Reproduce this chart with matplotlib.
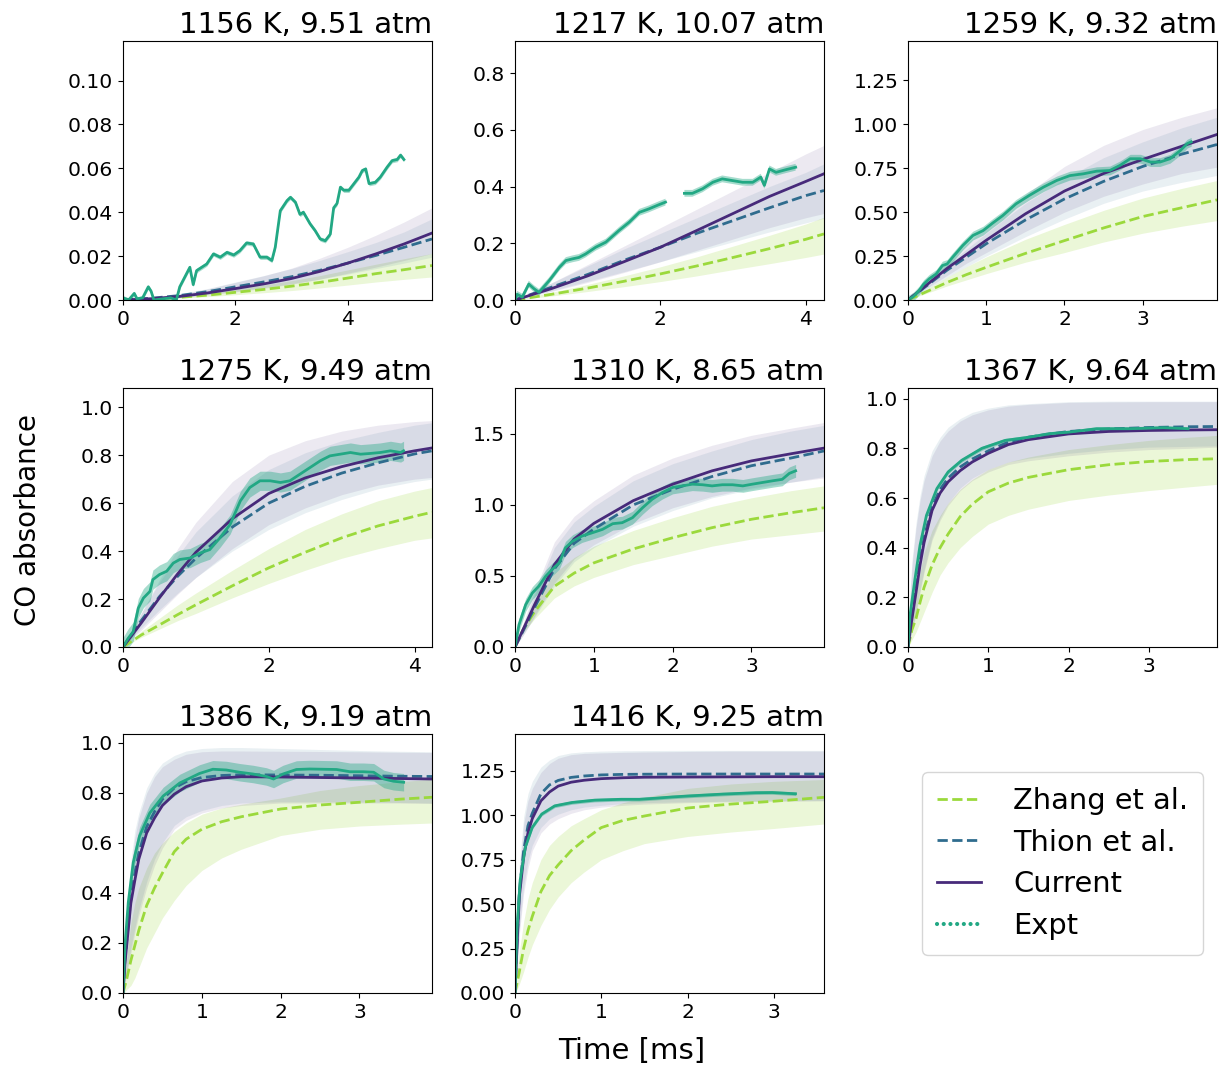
import matplotlib
matplotlib.use("Agg")
import matplotlib.pyplot as plt
import numpy as np
from matplotlib.lines import Line2D
from matplotlib.ticker import MultipleLocator

# ---- panel titles / axis limits / tick steps
TITLES = ["1156 K, 9.51 atm", "1217 K, 10.07 atm", "1259 K, 9.32 atm",
          "1275 K, 9.49 atm", "1310 K, 8.65 atm", "1367 K, 9.64 atm",
          "1386 K, 9.19 atm", "1416 K, 9.25 atm"]
XMAX = [5.5, 4.25, 3.95, 4.24, 3.92, 3.85, 3.92, 3.58]
YMAX = [0.118, 0.913, 1.474, 1.08, 1.823, 1.043, 1.036, 1.456]
XSTEP = [2, 2, 1, 2, 1, 1, 1, 1]
YSTEP = [0.02, 0.2, 0.25, 0.2, 0.5, 0.2, 0.2, 0.25]

# ---- panel 1 : 1156 K
T1 = [0, 0.5, 1, 1.5, 2, 2.5, 3, 3.5, 4, 4.5, 5, 5.5]
ZH1 = [0, 0.0004, 0.0012, 0.0022, 0.0035, 0.0048, 0.0063, 0.0080, 0.0100, 0.0120, 0.0138, 0.0157]
ZH1_LO = [0, 0.0002, 0.0008, 0.0015, 0.0024, 0.0033, 0.0043, 0.0055, 0.0068, 0.0082, 0.0094, 0.0105]
ZH1_HI = [0, 0.0006, 0.0017, 0.0032, 0.0050, 0.0068, 0.0088, 0.0111, 0.0137, 0.0163, 0.0188, 0.0212]
TH1 = [0, 0.0008, 0.0020, 0.0038, 0.0060, 0.0082, 0.0106, 0.0135, 0.0168, 0.0203, 0.0240, 0.0278]
TH1_LO = [0, 0.0005, 0.0013, 0.0025, 0.0040, 0.0056, 0.0074, 0.0095, 0.0118, 0.0143, 0.0168, 0.0195]
TH1_HI = [0, 0.0011, 0.0028, 0.0052, 0.0082, 0.0111, 0.0143, 0.0180, 0.0220, 0.0262, 0.0310, 0.0370]
CU1 = [0, 0.0006, 0.0016, 0.0032, 0.0052, 0.0073, 0.0098, 0.0130, 0.0168, 0.0210, 0.0255, 0.0305]
CU1_LO = [0, 0.0004, 0.0011, 0.0022, 0.0037, 0.0053, 0.0072, 0.0095, 0.0122, 0.0150, 0.0180, 0.0212]
CU1_HI = [0, 0.0010, 0.0026, 0.0050, 0.0080, 0.0110, 0.0145, 0.0190, 0.0240, 0.0295, 0.0355, 0.0420]
EX1_T = [0, 0.1, 0.2, 0.25, 0.35, 0.45, 0.5, 0.55, 0.7, 0.85, 0.95, 1.01, 1.19, 1.25, 1.31,
         1.49, 1.61, 1.73, 1.85, 1.97, 2.08, 2.2, 2.32, 2.44, 2.56, 2.65, 2.71, 2.8, 2.92,
         2.98, 3.07, 3.15, 3.21, 3.33, 3.42, 3.51, 3.6, 3.69, 3.75, 3.81, 3.87, 3.93, 4.02,
         4.11, 4.2, 4.26, 4.32, 4.38, 4.49, 4.58, 4.7, 4.79, 4.88, 4.94, 5.0]
EX1_Y = [0.001, 0.0, 0.003, 0.0005, 0.001, 0.006, 0.004, 0.0, 0.0005, 0.001, 0.0, 0.006,
         0.0149, 0.007, 0.0134, 0.0164, 0.021, 0.0195, 0.0217, 0.0205, 0.0225, 0.026, 0.0255,
         0.0195, 0.0195, 0.018, 0.024, 0.0407, 0.0453, 0.0468, 0.0445, 0.039, 0.040, 0.0347,
         0.0316, 0.0278, 0.027, 0.030, 0.042, 0.044, 0.0514, 0.050, 0.050, 0.053, 0.056,
         0.059, 0.0597, 0.053, 0.0536, 0.056, 0.0605, 0.0635, 0.064, 0.066, 0.064]
EX1_ERR = 0.001

# ---- panel 2 : 1217 K
T2 = [0, 0.5, 1, 1.5, 2, 2.5, 3, 3.5, 4, 4.25]
ZH2 = [0, 0.02, 0.042, 0.066, 0.092, 0.12, 0.15, 0.181, 0.214, 0.233]
ZH2_LO = [0, 0.014, 0.03, 0.047, 0.065, 0.085, 0.107, 0.128, 0.15, 0.162]
ZH2_HI = [0, 0.027, 0.055, 0.085, 0.117, 0.152, 0.19, 0.228, 0.268, 0.292]
TH2 = [0, 0.045, 0.09, 0.14, 0.186, 0.235, 0.28, 0.325, 0.368, 0.386]
TH2_LO = [0, 0.033, 0.066, 0.1, 0.135, 0.17, 0.205, 0.24, 0.272, 0.288]
TH2_HI = [0, 0.06, 0.12, 0.18, 0.235, 0.29, 0.345, 0.4, 0.45, 0.48]
CU2 = [0, 0.04, 0.085, 0.135, 0.186, 0.245, 0.305, 0.365, 0.418, 0.445]
CU2_LO = [0, 0.03, 0.062, 0.097, 0.135, 0.175, 0.215, 0.255, 0.29, 0.305]
CU2_HI = [0, 0.06, 0.125, 0.19, 0.255, 0.32, 0.385, 0.45, 0.515, 0.545]
EX2_T = [0, 0.03, 0.1, 0.19, 0.26, 0.33, 0.47, 0.61, 0.7, 0.79, 0.88, 0.97, 1.11, 1.25,
         1.43, 1.57, 1.71, 1.84, 1.98, 2.07, 2.2, 2.33, 2.44, 2.58, 2.72, 2.85, 2.99, 3.13,
         3.27, 3.38, 3.43, 3.5, 3.59, 3.72, 3.86]
EX2_Y = [0, 0.02, 0.01, 0.056, 0.04, 0.027, 0.068, 0.115, 0.139, 0.145, 0.15, 0.162, 0.186,
         0.204, 0.245, 0.274, 0.309, 0.321, 0.336, 0.345, np.nan, 0.376, 0.376, 0.392, 0.415,
         0.427, 0.421, 0.415, 0.415, 0.433, 0.404, 0.462, 0.45, 0.459, 0.468]
EX2_ERR = 0.012

# ---- panel 3 : 1259 K
T3 = [0, 0.25, 0.5, 0.75, 1, 1.5, 2, 2.5, 3, 3.5, 3.95]
ZH3 = [0, 0.05, 0.1, 0.145, 0.186, 0.265, 0.338, 0.41, 0.475, 0.525, 0.57]
ZH3_LO = [0, 0.04, 0.08, 0.115, 0.15, 0.215, 0.27, 0.33, 0.38, 0.42, 0.452]
ZH3_HI = [0, 0.065, 0.13, 0.19, 0.245, 0.345, 0.43, 0.51, 0.58, 0.635, 0.68]
TH3 = [0, 0.085, 0.17, 0.245, 0.32, 0.455, 0.575, 0.675, 0.76, 0.83, 0.885]
TH3_LO = [0, 0.065, 0.13, 0.19, 0.25, 0.36, 0.46, 0.55, 0.62, 0.67, 0.709]
TH3_HI = [0, 0.1, 0.2, 0.29, 0.38, 0.55, 0.69, 0.81, 0.9, 0.98, 1.04]
CU3 = [0, 0.09, 0.18, 0.26, 0.34, 0.49, 0.62, 0.72, 0.80, 0.875, 0.942]
CU3_LO = [0, 0.07, 0.14, 0.21, 0.27, 0.39, 0.5, 0.59, 0.66, 0.72, 0.756]
CU3_HI = [0, 0.11, 0.22, 0.32, 0.42, 0.6, 0.76, 0.88, 0.97, 1.04, 1.094]
EX3_T = [0, 0.07, 0.14, 0.2, 0.27, 0.36, 0.44, 0.5, 0.57, 0.7, 0.83, 0.96, 1.08, 1.21, 1.38,
         1.55, 1.73, 1.9, 2.07, 2.24, 2.41, 2.58, 2.71, 2.84, 2.97, 3.1, 3.22, 3.35, 3.48,
         3.57, 3.62]
EX3_Y = [0, 0.02, 0.053, 0.09, 0.12, 0.148, 0.196, 0.205, 0.243, 0.31, 0.367, 0.395, 0.437,
         0.48, 0.547, 0.595, 0.642, 0.68, 0.708, 0.718, 0.733, 0.737, 0.766, 0.804, 0.804,
         0.785, 0.785, 0.804, 0.85, 0.89, 0.9]
EX3_ERR = 0.025

# ---- panel 4 : 1275 K
T4 = [0, 0.25, 0.5, 0.75, 1, 1.5, 2, 2.5, 3, 3.5, 4, 4.24]
ZH4 = [0, 0.05, 0.092, 0.135, 0.176, 0.255, 0.33, 0.395, 0.455, 0.505, 0.545, 0.562]
ZH4_LO = [0, 0.04, 0.075, 0.11, 0.14, 0.205, 0.265, 0.32, 0.37, 0.41, 0.445, 0.455]
ZH4_HI = [0, 0.065, 0.12, 0.175, 0.225, 0.32, 0.41, 0.49, 0.555, 0.61, 0.65, 0.665]
TH4 = [0, 0.11, 0.21, 0.295, 0.37, 0.5, 0.6, 0.67, 0.725, 0.768, 0.805, 0.818]
TH4_LO = [0, 0.08, 0.155, 0.225, 0.29, 0.4, 0.49, 0.56, 0.615, 0.66, 0.69, 0.7]
TH4_HI = [0, 0.14, 0.27, 0.38, 0.48, 0.63, 0.74, 0.81, 0.86, 0.895, 0.925, 0.935]
CU4 = [0, 0.1, 0.205, 0.305, 0.395, 0.535, 0.64, 0.705, 0.752, 0.789, 0.818, 0.83]
CU4_LO = [0, 0.07, 0.145, 0.22, 0.29, 0.41, 0.51, 0.58, 0.635, 0.675, 0.7, 0.707]
CU4_HI = [0, 0.14, 0.28, 0.41, 0.52, 0.69, 0.8, 0.86, 0.9, 0.925, 0.94, 0.944]
EX4_T = [0, 0.07, 0.14, 0.21, 0.28, 0.37, 0.41, 0.5, 0.6, 0.69, 0.78, 0.92, 1.06, 1.19, 1.33,
         1.47, 1.61, 1.74, 1.88, 2.02, 2.16, 2.29, 2.43, 2.57, 2.71, 2.84, 2.98, 3.12, 3.26,
         3.39, 3.53, 3.67, 3.81, 3.85]
EX4_Y = [0, 0.036, 0.064, 0.162, 0.204, 0.232, 0.281, 0.302, 0.316, 0.35, 0.365, 0.371,
         0.392, 0.406, 0.455, 0.511, 0.609, 0.665, 0.693, 0.693, 0.686, 0.693, 0.721, 0.749,
         0.777, 0.797, 0.804, 0.811, 0.804, 0.807, 0.811, 0.818, 0.811, 0.818]
EX4_ERR = 0.04

# ---- panel 5 : 1310 K
T5 = [0, 0.1, 0.25, 0.5, 0.75, 1, 1.5, 2, 2.5, 3, 3.5, 3.92]
ZH5 = [0, 0.12, 0.25, 0.427, 0.52, 0.592, 0.69, 0.769, 0.84, 0.899, 0.945, 0.98]
ZH5_LO = [0, 0.1, 0.2, 0.345, 0.43, 0.49, 0.58, 0.645, 0.71, 0.76, 0.79, 0.816]
ZH5_HI = [0, 0.15, 0.31, 0.52, 0.63, 0.71, 0.82, 0.91, 0.99, 1.05, 1.1, 1.134]
TH5 = [0, 0.11, 0.28, 0.55, 0.73, 0.83, 1.0, 1.11, 1.2, 1.276, 1.33, 1.38]
TH5_LO = [0, 0.08, 0.21, 0.43, 0.6, 0.7, 0.85, 0.96, 1.05, 1.11, 1.16, 1.2]
TH5_HI = [0, 0.15, 0.37, 0.7, 0.88, 0.99, 1.17, 1.29, 1.38, 1.46, 1.52, 1.56]
CU5 = [0, 0.12, 0.3, 0.58, 0.76, 0.87, 1.03, 1.146, 1.24, 1.31, 1.36, 1.40]
CU5_LO = [0, 0.08, 0.22, 0.45, 0.62, 0.72, 0.87, 0.98, 1.06, 1.12, 1.16, 1.19]
CU5_HI = [0, 0.16, 0.4, 0.74, 0.92, 1.03, 1.21, 1.33, 1.42, 1.49, 1.54, 1.58]
EX5_T = [0, 0.05, 0.135, 0.22, 0.3, 0.39, 0.47, 0.56, 0.64, 0.73, 0.85, 0.98, 1.11, 1.24,
         1.36, 1.49, 1.62, 1.74, 1.87, 2.0, 2.12, 2.25, 2.38, 2.5, 2.63, 2.76, 2.89, 3.01,
         3.14, 3.27, 3.39, 3.48, 3.56]
EX5_Y = [0, 0.156, 0.297, 0.38, 0.427, 0.498, 0.545, 0.592, 0.698, 0.745, 0.781, 0.804,
         0.828, 0.868, 0.875, 0.91, 0.981, 1.04, 1.087, 1.123, 1.134, 1.146, 1.142, 1.134,
         1.142, 1.142, 1.134, 1.146, 1.158, 1.17, 1.18, 1.222, 1.24]
EX5_ERR = 0.045

# ---- panel 6 : 1367 K
T6 = [0, 0.025, 0.05, 0.1, 0.15, 0.2, 0.3, 0.4, 0.5, 0.65, 0.8, 1, 1.25, 1.5, 2, 2.5, 3, 3.5, 3.85]
ZH6 = [0, 0.035, 0.07, 0.115, 0.18, 0.24, 0.33, 0.4, 0.455, 0.525, 0.575, 0.625, 0.66,
       0.683, 0.714, 0.734, 0.747, 0.755, 0.758]
ZH6_LO = [0, 0.015, 0.03, 0.06, 0.1, 0.14, 0.22, 0.29, 0.34, 0.4, 0.445, 0.495, 0.53,
          0.555, 0.59, 0.612, 0.63, 0.645, 0.655]
ZH6_HI = [0, 0.07, 0.13, 0.22, 0.3, 0.38, 0.47, 0.53, 0.58, 0.635, 0.675, 0.715, 0.745,
          0.765, 0.795, 0.815, 0.832, 0.845, 0.852]
TH6 = [0, 0.07, 0.13, 0.24, 0.35, 0.44, 0.565, 0.635, 0.68, 0.725, 0.757, 0.79, 0.825,
       0.845, 0.868, 0.878, 0.884, 0.887, 0.888]
TH6_LO = [0, 0.035, 0.07, 0.14, 0.23, 0.31, 0.44, 0.52, 0.58, 0.64, 0.68, 0.715, 0.745,
          0.76, 0.78, 0.795, 0.805, 0.808, 0.81]
TH6_HI = [0, 0.22, 0.35, 0.5, 0.61, 0.69, 0.79, 0.845, 0.885, 0.92, 0.945, 0.962, 0.975,
          0.98, 0.988, 0.99, 0.99, 0.99, 0.99]
CU6 = [0, 0.06, 0.115, 0.22, 0.33, 0.42, 0.55, 0.62, 0.665, 0.71, 0.745, 0.78, 0.815,
       0.835, 0.858, 0.868, 0.872, 0.874, 0.875]
CU6_LO = [0, 0.03, 0.06, 0.13, 0.22, 0.3, 0.43, 0.51, 0.57, 0.63, 0.67, 0.705, 0.735,
          0.75, 0.77, 0.785, 0.795, 0.8, 0.805]
CU6_HI = [0, 0.2, 0.33, 0.48, 0.59, 0.67, 0.77, 0.83, 0.87, 0.91, 0.935, 0.955, 0.97,
          0.977, 0.985, 0.987, 0.988, 0.988, 0.988]
EX6_T = [0, 0.025, 0.088, 0.15, 0.23, 0.36, 0.5, 0.67, 0.92, 1.21, 1.51, 1.76, 2.0, 2.35,
         2.76, 3.18, 3.49]
EX6_Y = [0, 0.128, 0.276, 0.41, 0.53, 0.638, 0.705, 0.752, 0.8, 0.832, 0.845, 0.859, 0.865,
         0.879, 0.879, 0.883, 0.879]
EX6_ERR = 0.008

# ---- panel 7 : 1386 K
T7 = [0, 0.025, 0.05, 0.1, 0.15, 0.2, 0.3, 0.4, 0.5, 0.65, 0.8, 1, 1.25, 1.5, 2, 2.5, 3, 3.5, 3.92]
ZH7 = [0, 0.03, 0.06, 0.13, 0.19, 0.25, 0.35, 0.42, 0.48, 0.565, 0.615, 0.655, 0.685,
       0.705, 0.736, 0.752, 0.763, 0.775, 0.783]
ZH7_LO = [0, 0.005, 0.015, 0.03, 0.06, 0.1, 0.18, 0.24, 0.3, 0.37, 0.43, 0.49, 0.54,
          0.575, 0.63, 0.655, 0.668, 0.675, 0.68]
ZH7_HI = [0, 0.08, 0.15, 0.28, 0.36, 0.42, 0.5, 0.56, 0.6, 0.645, 0.68, 0.715, 0.74,
          0.755, 0.78, 0.81, 0.83, 0.845, 0.855]
TH7 = [0, 0.13, 0.22, 0.38, 0.48, 0.56, 0.665, 0.725, 0.775, 0.82, 0.845, 0.862, 0.87,
       0.873, 0.872, 0.871, 0.869, 0.867, 0.866]
TH7_LO = [0, 0.05, 0.09, 0.18, 0.26, 0.33, 0.445, 0.535, 0.6, 0.67, 0.705, 0.73, 0.75,
          0.76, 0.765, 0.765, 0.764, 0.762, 0.76]
TH7_HI = [0, 0.22, 0.36, 0.53, 0.65, 0.72, 0.82, 0.88, 0.92, 0.95, 0.968, 0.978, 0.982,
          0.982, 0.978, 0.974, 0.97, 0.967, 0.965]
CU7 = [0, 0.122, 0.2, 0.36, 0.45, 0.535, 0.64, 0.7, 0.75, 0.795, 0.825, 0.848, 0.86,
       0.865, 0.864, 0.862, 0.86, 0.858, 0.856]
CU7_LO = [0, 0.04, 0.08, 0.16, 0.24, 0.31, 0.42, 0.51, 0.58, 0.655, 0.69, 0.72, 0.74,
          0.75, 0.76, 0.76, 0.76, 0.76, 0.758]
CU7_HI = [0, 0.2, 0.33, 0.5, 0.62, 0.7, 0.8, 0.865, 0.905, 0.935, 0.955, 0.965, 0.968,
          0.968, 0.967, 0.966, 0.965, 0.963, 0.962]
EX7_T = [0, 0.025, 0.067, 0.13, 0.21, 0.34, 0.51, 0.72, 0.97, 1.14, 1.31, 1.48, 1.65, 1.82,
         1.91, 2.03, 2.2, 2.37, 2.54, 2.71, 2.88, 3.05, 3.18, 3.31, 3.43, 3.56]
EX7_Y = [0, 0.19, 0.362, 0.522, 0.628, 0.72, 0.788, 0.84, 0.878, 0.895, 0.892, 0.883, 0.876,
         0.866, 0.856, 0.876, 0.894, 0.896, 0.895, 0.894, 0.885, 0.885, 0.883, 0.856, 0.847,
         0.843]
EX7_ERR = 0.035

# ---- panel 8 : 1416 K
T8 = [0, 0.025, 0.05, 0.1, 0.15, 0.2, 0.3, 0.4, 0.5, 0.65, 0.8, 1, 1.25, 1.5, 2, 2.5, 3, 3.58]
ZH8 = [0, 0.06, 0.12, 0.25, 0.35, 0.43, 0.57, 0.66, 0.72, 0.8, 0.86, 0.93, 0.97, 0.995,
       1.04, 1.062, 1.078, 1.1]
ZH8_LO = [0, 0.02, 0.05, 0.12, 0.2, 0.27, 0.38, 0.47, 0.54, 0.62, 0.68, 0.75, 0.8, 0.84,
          0.88, 0.905, 0.925, 0.95]
ZH8_HI = [0, 0.12, 0.23, 0.4, 0.53, 0.62, 0.75, 0.83, 0.88, 0.94, 0.98, 1.03, 1.07, 1.1,
          1.15, 1.175, 1.19, 1.2]
TH8 = [0, 0.3, 0.57, 0.8, 0.94, 1.01, 1.12, 1.17, 1.195, 1.212, 1.22, 1.226, 1.229, 1.23,
       1.231, 1.231, 1.231, 1.231]
TH8_LO = [0, 0.17, 0.36, 0.6, 0.74, 0.83, 0.93, 0.98, 1.005, 1.03, 1.045, 1.055, 1.065,
          1.07, 1.075, 1.078, 1.08, 1.082]
TH8_HI = [0, 0.42, 0.72, 0.99, 1.12, 1.19, 1.27, 1.31, 1.335, 1.35, 1.356, 1.36, 1.362,
          1.363, 1.364, 1.364, 1.364, 1.364]
CU8 = [0, 0.28, 0.54, 0.764, 0.9, 0.98, 1.08, 1.13, 1.163, 1.185, 1.196, 1.205, 1.21,
       1.213, 1.214, 1.215, 1.216, 1.216]
CU8_LO = [0, 0.15, 0.33, 0.56, 0.7, 0.8, 0.9, 0.95, 0.98, 1.01, 1.03, 1.045, 1.055, 1.062,
          1.07, 1.075, 1.078, 1.08]
CU8_HI = [0, 0.4, 0.68, 0.95, 1.08, 1.15, 1.24, 1.29, 1.32, 1.34, 1.347, 1.35, 1.353,
          1.355, 1.358, 1.36, 1.36, 1.36]
EX8_T = [0, 0.023, 0.06, 0.12, 0.2, 0.31, 0.46, 0.66, 0.92, 1.23, 1.44, 1.63, 1.82, 2.02,
         2.21, 2.4, 2.59, 2.79, 2.98, 3.25]
EX8_Y = [0, 0.356, 0.635, 0.82, 0.931, 1.006, 1.052, 1.071, 1.084, 1.089, 1.089, 1.095,
         1.102, 1.108, 1.113, 1.118, 1.122, 1.126, 1.127, 1.12]
EX8_ERR = 0.01

PANELS = [
    (T1, ZH1, ZH1_LO, ZH1_HI, TH1, TH1_LO, TH1_HI, CU1, CU1_LO, CU1_HI, EX1_T, EX1_Y, EX1_ERR),
    (T2, ZH2, ZH2_LO, ZH2_HI, TH2, TH2_LO, TH2_HI, CU2, CU2_LO, CU2_HI, EX2_T, EX2_Y, EX2_ERR),
    (T3, ZH3, ZH3_LO, ZH3_HI, TH3, TH3_LO, TH3_HI, CU3, CU3_LO, CU3_HI, EX3_T, EX3_Y, EX3_ERR),
    (T4, ZH4, ZH4_LO, ZH4_HI, TH4, TH4_LO, TH4_HI, CU4, CU4_LO, CU4_HI, EX4_T, EX4_Y, EX4_ERR),
    (T5, ZH5, ZH5_LO, ZH5_HI, TH5, TH5_LO, TH5_HI, CU5, CU5_LO, CU5_HI, EX5_T, EX5_Y, EX5_ERR),
    (T6, ZH6, ZH6_LO, ZH6_HI, TH6, TH6_LO, TH6_HI, CU6, CU6_LO, CU6_HI, EX6_T, EX6_Y, EX6_ERR),
    (T7, ZH7, ZH7_LO, ZH7_HI, TH7, TH7_LO, TH7_HI, CU7, CU7_LO, CU7_HI, EX7_T, EX7_Y, EX7_ERR),
    (T8, ZH8, ZH8_LO, ZH8_HI, TH8, TH8_LO, TH8_HI, CU8, CU8_LO, CU8_HI, EX8_T, EX8_Y, EX8_ERR),
]

cmap = plt.get_cmap("viridis")
C_ZH = cmap(0.85)
C_TH = cmap(0.35)
C_CU = cmap(0.12)
C_EX = cmap(0.6)

W, H = 1219, 1065
fig = plt.figure(figsize=(W / 100, H / 100), dpi=100)

lefts = [123, 515, 908]
tops = [41, 388, 734]
aw, ah = 309, 259

for i, p in enumerate(PANELS):
    t, zh, zl, zu, th, tl, tu, cu, cl, cuh, et, ey, ee = p
    r, c = divmod(i, 3)
    ax = fig.add_axes([lefts[c] / W, 1 - (tops[r] + ah) / H, aw / W, ah / H])
    t = np.array(t)
    ax.fill_between(t, zl, zu, color=C_ZH, alpha=0.2, lw=0)
    ax.fill_between(t, tl, tu, color=C_TH, alpha=0.1, lw=0)
    ax.fill_between(t, cl, cuh, color=C_CU, alpha=0.1, lw=0)
    ax.plot(t, zh, "--", color=C_ZH, lw=2)
    ax.plot(t, th, "--", color=C_TH, lw=2)
    ax.plot(t, cu, "-", color=C_CU, lw=2)
    et = np.array(et)
    ey = np.array(ey, dtype=float)
    ax.fill_between(et, ey - ee, ey + ee, color=C_EX, alpha=0.4, lw=0)
    ax.plot(et, ey, "-", color=C_EX, lw=2)
    ax.set_xlim(0, XMAX[i])
    ax.set_ylim(0, YMAX[i])
    ax.xaxis.set_major_locator(MultipleLocator(XSTEP[i]))
    ax.yaxis.set_major_locator(MultipleLocator(YSTEP[i]))
    ax.tick_params(labelsize=14.6)
    ax.set_title(TITLES[i], loc="right", fontsize=21, pad=5.5)

# legend in the empty ninth cell
lax = fig.add_axes([lefts[2] / W, 1 - (tops[2] + ah) / H, aw / W, ah / H])
lax.axis("off")
handles = [
    Line2D([], [], ls="--", color=C_ZH, lw=2),
    Line2D([], [], ls="--", color=C_TH, lw=2),
    Line2D([], [], ls="-", color=C_CU, lw=2),
    Line2D([], [], ls=(0, (0.01, 1.6)), color=C_EX, lw=3, dash_capstyle="round"),
]
lax.legend(handles, ["Zhang et al.", "Thion et al.", "Current", "Expt"],
           loc="center", fontsize=20.8, handlelength=1.55, labelspacing=0.48,
           handletextpad=1.1, borderpad=0.5)

fig.text(0.023, 0.5117, "CO absorbance", rotation=90, ha="center", va="center", fontsize=20)
fig.text(0.5185, 0.013, "Time [ms]", ha="center", va="center", fontsize=21)

fig.savefig("out.png", dpi=100)
